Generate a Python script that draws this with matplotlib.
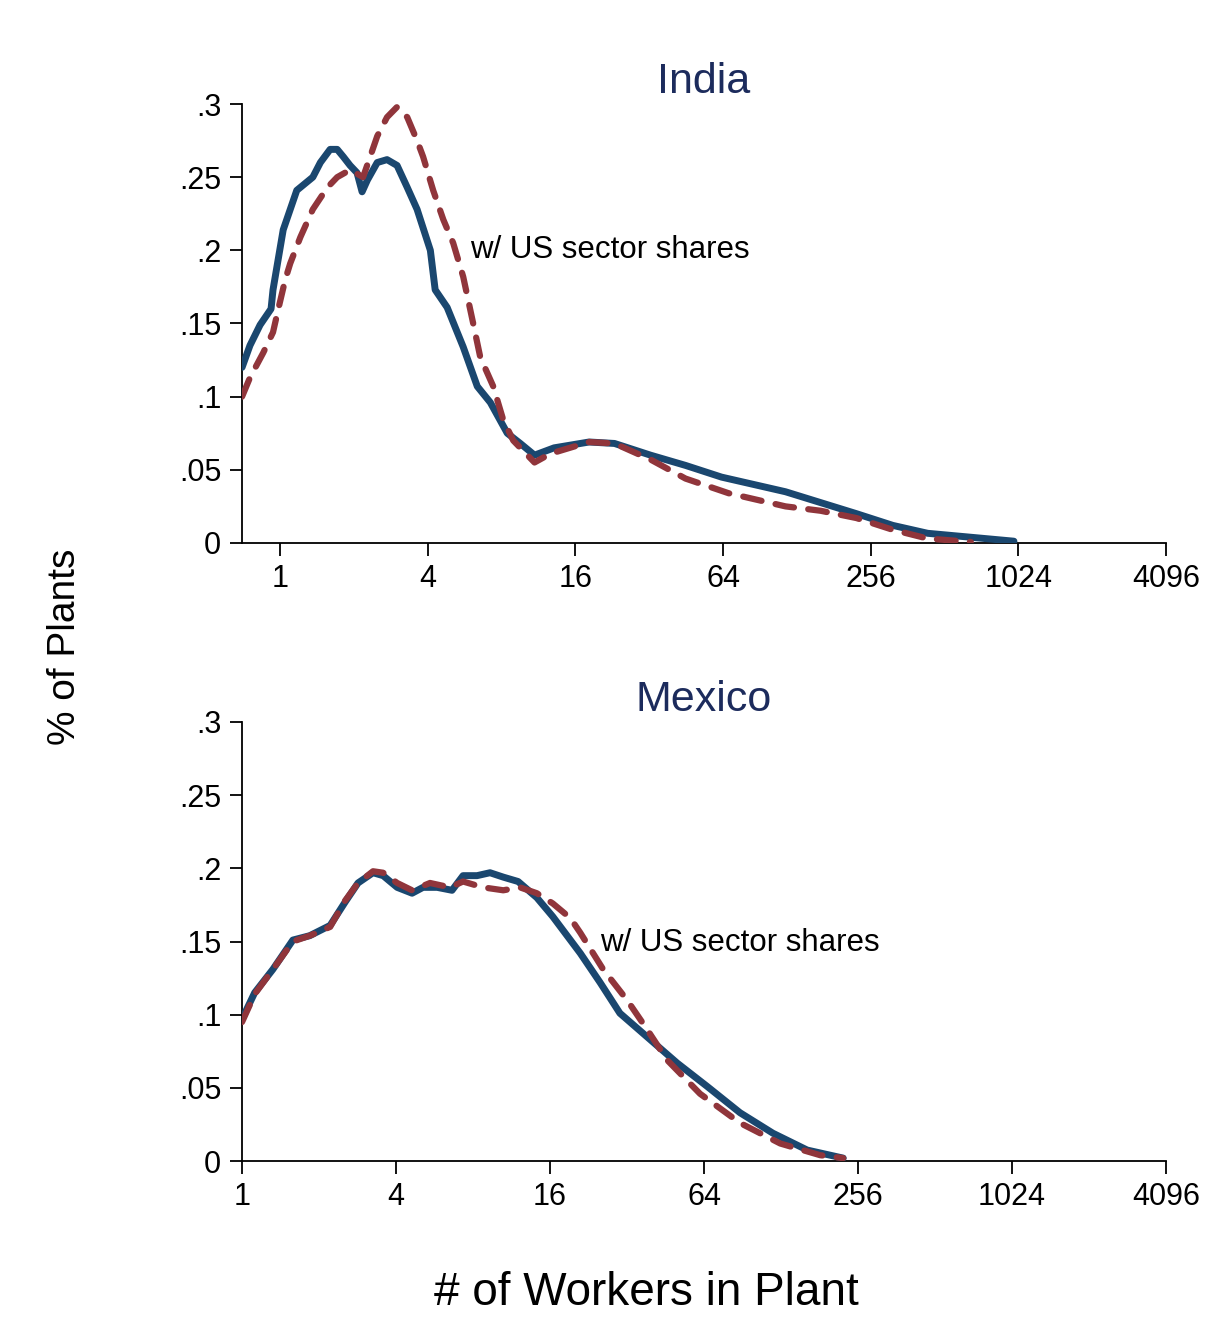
import matplotlib
matplotlib.use("Agg")
import matplotlib.pyplot as plt
from matplotlib.ticker import FixedLocator, FixedFormatter, NullLocator

plt.rcParams["font.family"] = ["Liberation Sans", "DejaVu Sans"]

# ---- data: plant-size density (share of plants) by number of workers ----
india_workers = [0.70, 0.754, 0.829, 0.919, 0.936, 1.03, 1.17, 1.36, 1.46, 1.60, 1.71,
                 1.81, 1.93, 2.06, 2.16, 2.27, 2.49, 2.73, 3.00, 3.30, 3.62, 4.10,
                 4.29, 4.80, 5.58, 6.37, 7.20, 8.44, 9.54, 10.9, 13.1, 18.2, 23.1,
                 32.4, 45.0, 63.1, 115, 224, 315, 437, 982]
india_actual = [0.120, 0.135, 0.149, 0.160, 0.173, 0.214, 0.241, 0.250, 0.260, 0.269,
                0.269, 0.264, 0.258, 0.253, 0.240, 0.248, 0.260, 0.262, 0.258, 0.243,
                0.228, 0.200, 0.173, 0.161, 0.134, 0.107, 0.096, 0.075, 0.068, 0.060,
                0.065, 0.069, 0.068, 0.060, 0.053, 0.045, 0.035, 0.020, 0.012, 0.0066,
                0.0012]

india_us_workers = [0.70, 0.754, 0.854, 0.936, 0.981, 1.05, 1.10, 1.21, 1.36, 1.56,
                    1.71, 1.93, 2.18, 2.33, 2.49, 2.73, 3.00, 3.30, 3.62, 3.83, 4.21,
                    4.63, 5.08, 5.58, 6.13, 6.55, 7.40, 8.13, 8.93, 10.9, 12.65, 18.2,
                    23.1, 32.4, 45.0, 67.4, 115, 160, 224, 315, 437, 655]
india_us_shares = [0.100, 0.113, 0.130, 0.144, 0.159, 0.180, 0.191, 0.209, 0.228, 0.243,
                   0.250, 0.255, 0.250, 0.264, 0.278, 0.291, 0.298, 0.291, 0.275, 0.264,
                   0.241, 0.221, 0.205, 0.182, 0.150, 0.127, 0.107, 0.084, 0.070, 0.055,
                   0.061, 0.069, 0.068, 0.057, 0.044, 0.034, 0.025, 0.022, 0.017, 0.009,
                   0.003, 0.0007]

mexico_workers = [1.0, 1.12, 1.32, 1.58, 1.84, 2.21, 2.53, 2.84, 3.25, 3.56, 4.04, 4.62,
                  5.10, 5.79, 6.62, 7.31, 8.29, 9.32, 10.5, 12.0, 14.2, 16.4, 21.0,
                  25.1, 30.0, 39.4, 50.2, 65.8, 88.5, 119, 162, 224]
mexico_actual = [0.097, 0.115, 0.131, 0.151, 0.154, 0.161, 0.177, 0.190, 0.197, 0.195,
                 0.187, 0.183, 0.187, 0.187, 0.185, 0.195, 0.195, 0.197, 0.194, 0.191,
                 0.180, 0.167, 0.142, 0.122, 0.101, 0.083, 0.067, 0.051, 0.033, 0.019,
                 0.0075, 0.002]

mexico_us_workers = [1.0, 1.12, 1.32, 1.58, 1.84, 2.21, 2.53, 2.84, 3.25, 3.56, 4.04,
                     4.62, 5.43, 6.50, 7.31, 8.75, 10.5, 12.2, 14.2, 16.4, 19.2, 21.0,
                     25.8, 32.0, 38.3, 45.9, 61.7, 88.5, 127, 182, 224]
mexico_us_shares = [0.095, 0.114, 0.131, 0.150, 0.154, 0.160, 0.178, 0.190, 0.198, 0.197,
                    0.190, 0.185, 0.190, 0.187, 0.191, 0.187, 0.185, 0.187, 0.183, 0.176,
                    0.166, 0.156, 0.131, 0.110, 0.090, 0.069, 0.046, 0.026, 0.012, 0.004,
                    0.002]

x_ticks = [1, 4, 16, 64, 256, 1024, 4096]
x_tick_labels = ["1", "4", "16", "64", "256", "1024", "4096"]
y_ticks = [0, 0.05, 0.1, 0.15, 0.2, 0.25, 0.3]
y_tick_labels = ["0", ".05", ".1", ".15", ".2", ".25", ".3"]

panels = [
    ("India", india_workers, india_actual, india_us_workers, india_us_shares, 0.70,
     (5.96, 0.200)),
    ("Mexico", mexico_workers, mexico_actual, mexico_us_workers, mexico_us_shares, 1.0,
     (25.1, 0.149)),
]

BLUE = "#1a476f"
RED = "#90353b"
TITLE = "#1c2b5c"

fig = plt.figure(figsize=(12.25, 13.37), dpi=100)
fig.patch.set_facecolor("white")

axes_boxes = [
    [0.1976, 0.5939, 0.7543, 0.3283],
    [0.1976, 0.1316, 0.7543, 0.3284],
]

for box, (name, xa, ya, xu, yu, xmin, lab) in zip(axes_boxes, panels):
    ax = fig.add_axes(box)
    ax.plot(xa, ya, color=BLUE, lw=5.0, solid_capstyle="round",
            solid_joinstyle="round", zorder=3)
    ax.plot(xu, yu, color=RED, lw=4.5, linestyle=(0, (3.0, 2.3)),
            dash_capstyle="round", dash_joinstyle="round", zorder=4)
    ax.set_xscale("log", base=2)
    ax.set_xlim(xmin, 4096)
    ax.set_ylim(0, 0.3)
    ax.xaxis.set_major_locator(FixedLocator(x_ticks))
    ax.xaxis.set_major_formatter(FixedFormatter(x_tick_labels))
    ax.xaxis.set_minor_locator(NullLocator())
    ax.yaxis.set_major_locator(FixedLocator(y_ticks))
    ax.yaxis.set_major_formatter(FixedFormatter(y_tick_labels))
    for s in ("top", "right"):
        ax.spines[s].set_visible(False)
    for s in ("left", "bottom"):
        ax.spines[s].set_linewidth(1.3)
        ax.spines[s].set_color("black")
    ax.tick_params(axis="both", direction="out", length=9, width=1.3,
                   labelsize=22, pad=6, colors="black")
    ax.set_title(name, fontsize=31, color=TITLE, pad=8)
    ax.text(lab[0], lab[1], "w/ US sector shares", fontsize=22.5,
            ha="left", va="center", color="black")

fig.text(646 / 1225, 1 - 1293 / 1337, "# of Workers in Plant", fontsize=33,
         ha="center", va="center")
fig.text(65 / 1225, 1 - 647 / 1337, "% of Plants", fontsize=28, rotation=90,
         ha="center", va="center")

fig.savefig("out.png", dpi=100, facecolor="white")
